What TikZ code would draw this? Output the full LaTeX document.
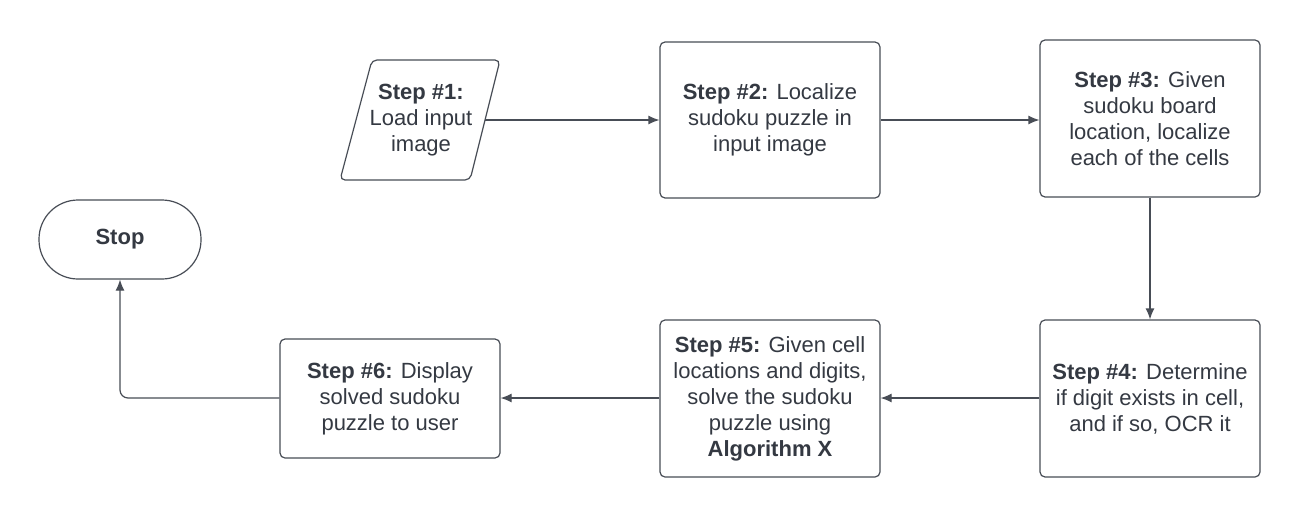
\documentclass[tikz,border=0pt]{standalone}
\usepackage{fontspec}
\setmainfont{Liberation Sans}
\usetikzlibrary{arrows.meta}
\definecolor{ink}{RGB}{52,57,66}
\definecolor{edgec}{RGB}{72,77,86}
\begin{document}
\begin{tikzpicture}[x=1pt,y=-1pt,
 txt/.style={align=center,text=ink,font=\fontsize{22}{26}\selectfont,inner sep=0pt},
 box/.style={txt,draw=edgec,line width=1.2pt,rounded corners=5pt,minimum width=220pt},
 conn/.style={draw=edgec,line width=1.2pt,-{Latex[length=11pt,width=9pt]}},
]
\useasboundingbox (0,0) rectangle (1300,517);
\fill[white] (0,0) rectangle (1300,517);
% Step 1 (parallelogram)
\draw[edgec,line width=1.2pt,rounded corners=5pt] (372,60) -- (500,60) -- (470,180) -- (340,180) -- cycle;
\node[txt] (s1) at (421,120) {\textbf{Step \#1:}\\Load input\\image};
\coordinate (s1e) at (485,120);
% Steps
\node[box,minimum height=156pt] (s2) at (770,120) {\textbf{Step \#2:} Localize\\sudoku puzzle in\\input image};
\node[box,minimum height=157pt] (s3) at (1150,118.5) {\textbf{Step \#3:} Given\\sudoku board\\location, localize\\each of the cells};
\node[box,minimum height=157pt] (s4) at (1150,398.5) {\textbf{Step \#4:} Determine\\if digit exists in cell,\\and if so, OCR it};
\node[box,minimum height=157pt] (s5) at (770,398.5) {\textbf{Step \#5:} Given cell\\locations and digits,\\solve the sudoku\\puzzle using\\\textbf{Algorithm X}};
\node[box,minimum height=119pt] (s6) at (390,398.5) {\textbf{Step \#6:} Display\\solved sudoku\\puzzle to user};
\node[txt,draw=edgec,line width=1.2pt,rounded corners=39pt,minimum width=162pt,minimum height=79pt] (stop) at (120,239.5) {\textbf{Stop}};
% Connectors
\draw[conn] (s1e) -- (s2.west |- s1e);
\draw[conn] (s2.east |- s1e) -- (s3.west |- s1e);
\draw[conn] (s3.south) -- (s4.north);
\draw[conn] (s4.west |- 0,398) -- (s5.east |- 0,398);
\draw[conn] (s5.west |- 0,398) -- (s6.east |- 0,398);
\draw[conn,rounded corners=8pt] (s6.west |- 0,398) -| (stop.south);
\end{tikzpicture}
\end{document}
